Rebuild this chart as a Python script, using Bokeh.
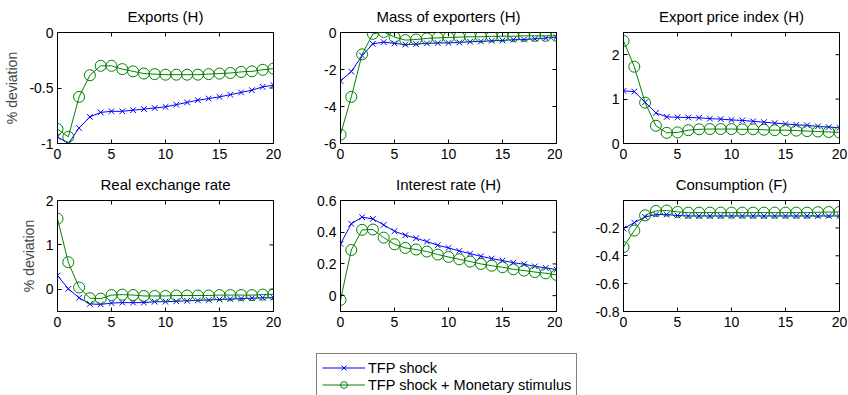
import math
from bokeh.plotting import figure
from bokeh.models import (Range1d, FixedTicker, PrintfTickFormatter,
                          Legend, LegendItem, ColumnDataSource)
from bokeh.layouts import column, row
from bokeh.embed import file_html
from bokeh.resources import INLINE

periods = list(range(21))

exports_tfp = [-0.94, -1.00, -0.86, -0.76, -0.72, -0.71, -0.71, -0.70, -0.69, -0.68, -0.67,
               -0.65, -0.63, -0.61, -0.595, -0.58, -0.56, -0.54, -0.52, -0.49, -0.475]
exports_mon = [-0.87, -0.94, -0.58, -0.385, -0.30, -0.30, -0.33, -0.35, -0.37, -0.375, -0.38,
               -0.38, -0.38, -0.38, -0.375, -0.37, -0.365, -0.355, -0.35, -0.336, -0.325]

mass_tfp = [-2.62, -2.11, -1.25, -0.61, -0.52, -0.59, -0.65, -0.63, -0.59, -0.57, -0.56,
            -0.54, -0.50, -0.48, -0.45, -0.43, -0.39, -0.38, -0.34, -0.30, -0.25]
mass_mon = [-5.52, -3.48, -1.18, -0.07, 0.03, -0.25, -0.41, -0.38, -0.32, -0.29, -0.27,
            -0.25, -0.23, -0.23, -0.21, -0.20, -0.20, -0.18, -0.18, -0.18, -0.18]

price_tfp = [1.185, 1.17, 0.93, 0.69, 0.60, 0.59, 0.585, 0.58, 0.56, 0.55, 0.53,
             0.52, 0.50, 0.48, 0.46, 0.44, 0.42, 0.41, 0.385, 0.37, 0.355]
price_mon = [2.31, 1.73, 0.92, 0.40, 0.24, 0.25, 0.30, 0.32, 0.325, 0.325, 0.325,
             0.32, 0.32, 0.31, 0.30, 0.30, 0.29, 0.28, 0.27, 0.26, 0.25]

rer_tfp = [0.31, 0.01, -0.19, -0.33, -0.34, -0.31, -0.30, -0.30, -0.30, -0.28, -0.28,
           -0.27, -0.26, -0.25, -0.24, -0.23, -0.22, -0.21, -0.20, -0.19, -0.19]
rer_mon = [1.59, 0.61, 0.04, -0.20, -0.21, -0.13, -0.12, -0.13, -0.15, -0.15, -0.15,
           -0.14, -0.14, -0.14, -0.14, -0.13, -0.13, -0.13, -0.13, -0.12, -0.11]

rate_tfp = [0.326, 0.453, 0.495, 0.484, 0.446, 0.406, 0.381, 0.362, 0.341, 0.318, 0.301,
            0.282, 0.265, 0.248, 0.234, 0.221, 0.208, 0.198, 0.185, 0.175, 0.164]
rate_mon = [-0.027, 0.288, 0.415, 0.417, 0.366, 0.324, 0.301, 0.291, 0.278, 0.259, 0.244,
            0.229, 0.215, 0.200, 0.189, 0.179, 0.166, 0.158, 0.149, 0.141, 0.131]

cons_tfp = [-0.205, -0.162, -0.121, -0.104, -0.104, -0.111, -0.114, -0.114, -0.114, -0.114, -0.114,
            -0.114, -0.114, -0.114, -0.114, -0.114, -0.114, -0.114, -0.114, -0.114, -0.114]
cons_mon = [-0.337, -0.219, -0.109, -0.078, -0.075, -0.085, -0.09, -0.09, -0.09, -0.09, -0.09,
            -0.09, -0.09, -0.09, -0.09, -0.09, -0.09, -0.09, -0.087, -0.086, -0.085]

titles = ["Exports (H)", "Mass of exporters (H)", "Export price index (H)",
          "Real exchange rate", "Interest rate (H)", "Consumption (F)"]
y_limits = [(-1, 0), (-6, 0), (0, 2.5), (-0.5, 2), (-0.1, 0.6), (-0.8, -0.003)]
y_ticks = [[-1, -0.5, 0], [-6, -4, -2, 0], [0, 1, 2], [0, 1, 2],
           [0, 0.2, 0.4, 0.6], [-0.8, -0.6, -0.4, -0.2]]
x_limits = (0, 20)
x_ticks = [0, 5, 10, 15, 20]
series_tfp = [exports_tfp, mass_tfp, price_tfp, rer_tfp, rate_tfp, cons_tfp]
series_mon = [exports_mon, mass_mon, price_mon, rer_mon, rate_mon, cons_mon]
legend_labels = ["TFP shock", "TFP shock + Monetary stimulus"]
y_label = "% deviation"

BLUE = "#0000ff"
GREEN = "#008000"
FONT = "Liberation Sans"

col_left = [57, 59, 61]
col_right = [8, 6, 9]
row_top = [32, 30]
row_bottom = [27, 34]


def style_axis(ax, ticks):
    ax.ticker = FixedTicker(ticks=ticks)
    ax.formatter = PrintfTickFormatter(format="%g")
    ax.major_tick_in = 4
    ax.major_tick_out = 0
    ax.minor_tick_in = 0
    ax.minor_tick_out = 0
    ax.axis_line_color = "black"
    ax.major_tick_line_color = "black"
    ax.major_label_text_font = FONT
    ax.major_label_text_color = "black"
    ax.major_label_text_font_size = "14px"


def make_panel(i):
    r, c = divmod(i, 3)
    p = figure(frame_width=216, frame_height=111,
               min_border_left=col_left[c], min_border_right=col_right[c],
               min_border_top=row_top[r], min_border_bottom=row_bottom[r],
               x_range=Range1d(*x_limits), y_range=Range1d(*y_limits[i]),
               output_backend="svg", toolbar_location=None, title=titles[i])
    p.background_fill_color = "white"
    p.border_fill_color = "white"
    p.xgrid.visible = False
    p.ygrid.visible = False
    p.outline_line_color = "black"
    p.outline_line_alpha = 1
    p.title.text_font = FONT
    p.title.text_font_size = "15px"
    p.title.text_font_style = "normal"
    p.title.text_color = "black"
    p.title.align = "center"
    p.title.vertical_align = "top"
    p.title.standoff = 11
    style_axis(p.xaxis[0], x_ticks)
    p.xaxis[0].major_label_standoff = 5
    style_axis(p.yaxis[0], y_ticks[i])
    p.yaxis[0].major_label_standoff = 4
    if c == 0:
        p.yaxis[0].axis_label = y_label
        p.yaxis[0].axis_label_text_font = FONT
        p.yaxis[0].axis_label_text_font_size = "14px"
        p.yaxis[0].axis_label_text_font_style = "normal"
        p.yaxis[0].axis_label_standoff = 6

    # tick marks on the top and right edges of the box (clipped to the frame)
    top = y_limits[i][1]
    right = x_limits[1]
    p.scatter(x=x_ticks, y=[top] * len(x_ticks), marker="dash", angle=math.pi / 2,
              size=8, line_color="black", line_width=1)
    p.scatter(x=[right] * len(y_ticks[i]), y=y_ticks[i], marker="dash",
              size=8, line_color="black", line_width=1)

    src = ColumnDataSource(dict(t=periods, a=series_tfp[i], b=series_mon[i]))
    p.line("t", "a", source=src, color=BLUE, line_width=1)
    p.scatter("t", "a", source=src, marker="x", size=8, line_color=BLUE, line_width=1)
    p.line("t", "b", source=src, color=GREEN, line_width=1)
    p.scatter("t", "b", source=src, marker="circle", size=11, line_color=GREEN,
              fill_color=None, line_width=1)
    return p


panels = [make_panel(i) for i in range(6)]

# legend panel: the series are drawn outside its visible range, only the legend shows
lf = figure(width=848, height=50, min_border=0, x_range=Range1d(1000, 1001),
            y_range=Range1d(1000, 1001), output_backend="svg", toolbar_location=None)
lf.axis.visible = False
lf.xgrid.visible = False
lf.ygrid.visible = False
lf.outline_line_color = None
lf.background_fill_color = "white"
lf.border_fill_color = "white"
lsrc = ColumnDataSource(dict(t=periods, a=exports_tfp, b=exports_mon))
l1 = lf.line("t", "a", source=lsrc, color=BLUE, line_width=1)
m1 = lf.scatter("t", "a", source=lsrc, marker="x", size=6, line_color=BLUE)
l2 = lf.line("t", "b", source=lsrc, color=GREEN, line_width=1)
m2 = lf.scatter("t", "b", source=lsrc, marker="circle", size=7, line_color=GREEN,
                fill_color=None)
legend = Legend(items=[LegendItem(label=legend_labels[0], renderers=[l1, m1]),
                       LegendItem(label=legend_labels[1], renderers=[l2, m2])],
                location=(316, -4), orientation="vertical")
legend.border_line_color = "black"
legend.border_line_width = 1
legend.background_fill_color = "white"
legend.background_fill_alpha = 1
legend.label_text_font = FONT
legend.label_text_font_size = "14.5px"
legend.label_text_color = "black"
legend.glyph_width = 43
legend.glyph_height = 17
legend.label_height = 17
legend.label_standoff = 3
legend.spacing = 0
legend.padding = 5
legend.margin = 0
lf.add_layout(legend)

layout = column(row(*panels[:3]), row(*panels[3:]), lf)
open("out.html", "w").write(file_html(layout, INLINE))
